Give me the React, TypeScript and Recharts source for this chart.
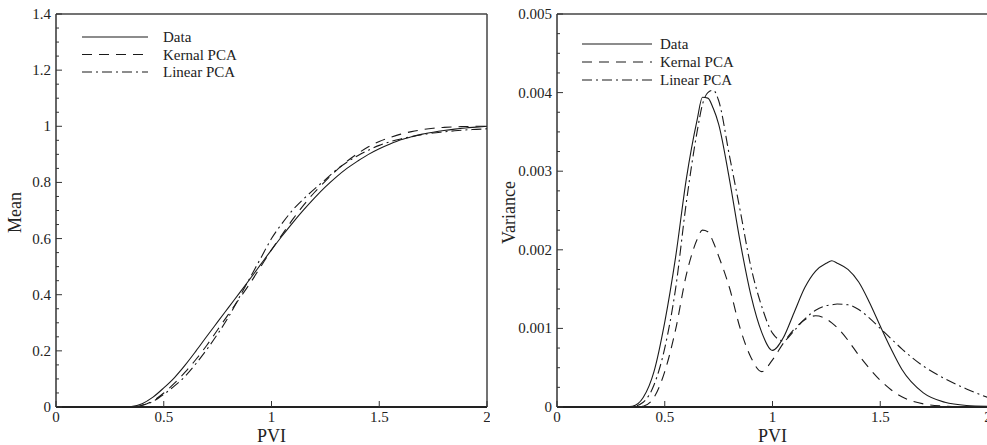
import { LineChart, Line, XAxis, YAxis, ReferenceLine, Legend } from 'recharts'

const FONT = '"Liberation Serif", "DejaVu Serif", serif'
const INK = '#1a1a1a'

// left panel: mean vs PVI
const meanPvi = [0, 0.1, 0.2, 0.3, 0.35, 0.4, 0.45, 0.5, 0.55, 0.6, 0.65, 0.7, 0.75, 0.8, 0.85, 0.9, 0.95, 1.0, 1.05, 1.1, 1.15, 1.2, 1.25, 1.3, 1.35, 1.4, 1.45, 1.5, 1.55, 1.6, 1.65, 1.7, 1.75, 1.8, 1.85, 1.9, 1.95, 2.0]
const meanData = [0, 0, 0, 0, 0.002, 0.012, 0.035, 0.068, 0.105, 0.15, 0.2, 0.252, 0.303, 0.354, 0.405, 0.456, 0.508, 0.56, 0.61, 0.658, 0.703, 0.745, 0.784, 0.819, 0.85, 0.876, 0.9, 0.92, 0.937, 0.952, 0.963, 0.972, 0.979, 0.985, 0.99, 0.994, 0.997, 1.0]
const meanKernal = [0, 0, 0, 0, 0, 0.006, 0.022, 0.05, 0.085, 0.125, 0.17, 0.22, 0.275, 0.33, 0.385, 0.44, 0.5, 0.56, 0.615, 0.67, 0.72, 0.765, 0.805, 0.842, 0.875, 0.903, 0.927, 0.946, 0.96, 0.972, 0.981, 0.988, 0.993, 0.996, 0.998, 0.999, 1.0, 1.0]
const meanLinear = [0, 0, 0, 0, 0, 0.006, 0.02, 0.045, 0.075, 0.11, 0.155, 0.205, 0.26, 0.32, 0.39, 0.46, 0.53, 0.6, 0.655, 0.703, 0.742, 0.777, 0.81, 0.844, 0.872, 0.895, 0.915, 0.932, 0.945, 0.955, 0.963, 0.97, 0.976, 0.98, 0.984, 0.987, 0.989, 0.991]

// right panel: variance vs PVI
const varPvi = [0, 0.1, 0.2, 0.3, 0.35, 0.4, 0.45, 0.5, 0.55, 0.6, 0.65, 0.675, 0.7, 0.725, 0.75, 0.8, 0.85, 0.9, 0.95, 1.0, 1.05, 1.1, 1.15, 1.2, 1.25, 1.275, 1.3, 1.35, 1.4, 1.45, 1.5, 1.55, 1.6, 1.7, 1.8, 1.9, 2.0]
const varData = [0, 0, 0, 0, 0.00001, 0.00012, 0.00045, 0.00108, 0.0019, 0.0029, 0.00365, 0.00394, 0.00393, 0.0038, 0.0036, 0.0029, 0.0021, 0.00142, 0.00095, 0.00072, 0.00088, 0.0012, 0.00152, 0.00173, 0.00183, 0.00186, 0.00183, 0.00175, 0.00159, 0.00133, 0.00103, 0.00074, 0.00048, 0.00018, 0.00006, 0.00002, 0.00001]
const varKernal = [0, 0, 0, 0, 0, 0.00001, 0.00012, 0.00045, 0.00098, 0.00168, 0.00213, 0.00225, 0.00223, 0.0021, 0.00192, 0.00152, 0.001, 0.00063, 0.00045, 0.0006, 0.00081, 0.00099, 0.00111, 0.00116, 0.00112, 0.00107, 0.00101, 0.00085, 0.00066, 0.00049, 0.00034, 0.00022, 0.00013, 0.00004, 0.00001, 0, 0]
const varLinear = [0, 0, 0, 0, 0.000005, 0.00006, 0.00028, 0.00075, 0.0015, 0.0026, 0.0035, 0.00385, 0.004, 0.00403, 0.0039, 0.0032, 0.0025, 0.00178, 0.00128, 0.00094, 0.00084, 0.00097, 0.00112, 0.00123, 0.00129, 0.0013, 0.00131, 0.0013, 0.00124, 0.00113, 0.001, 0.00087, 0.00074, 0.00052, 0.00036, 0.00023, 0.00012]

const xTicks = [0, 0.5, 1, 1.5, 2]
const meanMajor = [0, 0.2, 0.4, 0.6, 0.8, 1, 1.2, 1.4]
const varMajor = [0, 0.001, 0.002, 0.003, 0.004, 0.005]

const series = [
  { key: 'data', name: 'Data', dash: undefined as string | undefined },
  { key: 'kernal', name: 'Kernal PCA', dash: '10 7' },
  { key: 'linear', name: 'Linear PCA', dash: '10 4 2 4' },
]

const meanRows = meanPvi.map((pvi, i) => ({ pvi, data: meanData[i], kernal: meanKernal[i], linear: meanLinear[i] }))
const varRows = varPvi.map((pvi, i) => ({ pvi, data: varData[i], kernal: varKernal[i], linear: varLinear[i] }))

// majors plus 3 minor ticks in between
const withMinors = (major: number[]) => {
  const out: number[] = []
  for (let i = 0; i < major.length - 1; i++) {
    const step = (major[i + 1] - major[i]) / 4
    for (let k = 0; k < 4; k++) out.push(+(major[i] + k * step).toFixed(8))
  }
  out.push(major[major.length - 1])
  return out
}

const TICK_GAP = 5

const makeYTick = (major: number[]) => (props: any) => {
  const { x, y, payload } = props
  const ax = x + TICK_GAP
  const isMajor = major.some((m) => Math.abs(m - payload.value) < 1e-9)
  return (
    <g>
      <line x1={ax} x2={ax + (isMajor ? 6 : 3)} y1={y} y2={y} stroke="#333" strokeWidth={1} />
      {isMajor && (
        <text x={x} y={y + 5} textAnchor="end" fontSize={15} fontFamily={FONT} fill="#222">
          {String(payload.value)}
        </text>
      )}
    </g>
  )
}

const XTick = (props: any) => {
  const { x, y, payload } = props
  const ay = y - TICK_GAP
  return (
    <g>
      <line x1={x} x2={x} y1={ay} y2={ay - 6} stroke="#333" strokeWidth={1} />
      <text x={x} y={ay + 15} textAnchor="middle" fontSize={15} fontFamily={FONT} fill="#222">
        {String(payload.value)}
      </text>
    </g>
  )
}

const makeLegend = (lineX0: number, lineX1: number, textX: number, rowY: number[]) => (props: any) => {
  const payload = props.payload || []
  return (
    <svg width={300} height={110} style={{ overflow: 'visible' }}>
      {payload.map((entry: any, i: number) => {
        const s = series.find((q) => q.key === entry.dataKey) || series[i]
        return (
          <g key={s.key}>
            <line x1={lineX0} x2={lineX1} y1={rowY[i]} y2={rowY[i]} stroke={INK} strokeWidth={1.1} strokeDasharray={s.dash} />
            <text x={textX} y={rowY[i] + 5} fontSize={15} fontFamily={FONT} fill="#222">
              {entry.value}
            </text>
          </g>
        )
      })}
    </svg>
  )
}

const axisTitle = (text: string, x: number, dy: number, rotate: boolean) => (props: any) => {
  const vb = props.viewBox || {}
  if (rotate) {
    const cy = vb.y + vb.height / 2 + dy
    return (
      <text x={x} y={cy} transform={`rotate(-90 ${x} ${cy})`} textAnchor="middle" dominantBaseline="central" fontSize={18} fontFamily={FONT} fill="#222">
        {text}
      </text>
    )
  }
  const cx = vb.x + vb.width / 2
  return (
    <text x={cx} y={442} textAnchor="middle" fontSize={18} fontFamily={FONT} fill="#222">
      {text}
    </text>
  )
}

const Panel = ({ rows, width, margin, yMax, major, yTitle, yTitleX, legend }: any) => (
  <LineChart width={width} height={445} data={rows} margin={margin}>
    <XAxis
      dataKey="pvi"
      type="number"
      domain={[0, 2]}
      ticks={xTicks}
      height={1}
      tickSize={0}
      tickMargin={TICK_GAP}
      tick={XTick}
      axisLine={{ stroke: '#222', strokeWidth: 2.2 }}
      interval={0}
      allowDataOverflow
      label={axisTitle('PVI', 0, 0, false)}
    />
    <YAxis
      type="number"
      domain={[0, yMax]}
      ticks={withMinors(major)}
      width={1}
      tickSize={0}
      tickMargin={TICK_GAP}
      tick={makeYTick(major)}
      axisLine={{ stroke: '#333', strokeWidth: 1.5 }}
      interval={0}
      allowDataOverflow
      label={axisTitle(yTitle, yTitleX, 2, true)}
    />
    <ReferenceLine y={yMax} stroke="#444" strokeWidth={1.5} />
    <ReferenceLine x={2} stroke="#444" strokeWidth={1.5} />
    <Legend
      layout="horizontal"
      verticalAlign="middle"
      content={legend}
      wrapperStyle={{ left: 0, top: 0, width: 300, height: 110 }}
    />
    {series.map((s) => (
      <Line
        key={s.key}
        type="monotone"
        dataKey={s.key}
        name={s.name}
        stroke={INK}
        strokeWidth={1.1}
        strokeDasharray={s.dash}
        dot={false}
        activeDot={false}
        isAnimationActive={false}
      />
    ))}
  </LineChart>
)

export default function App() {
  return (
    <div style={{ position: 'absolute', left: 0, top: 0, width: 987, height: 445, overflow: 'hidden', background: '#fff' }}>
      <div style={{ position: 'absolute', left: 0, top: 0 }}>
        <Panel
          rows={meanRows}
          width={490}
          margin={{ top: 14, right: 3, bottom: 37, left: 55 }}
          yMax={1.4}
          major={meanMajor}
          yTitle="Mean"
          yTitleX={15}
          legend={makeLegend(82, 148, 163, [37, 54.5, 72])}
        />
      </div>
      <div style={{ position: 'absolute', left: 490, top: 0 }}>
        <Panel
          rows={varRows}
          width={500}
          margin={{ top: 14, right: 2, bottom: 37, left: 66 }}
          yMax={0.005}
          major={varMajor}
          yTitle="Variance"
          yTitleX={19}
          legend={makeLegend(92, 162, 170, [44, 62, 80])}
        />
      </div>
    </div>
  )
}
